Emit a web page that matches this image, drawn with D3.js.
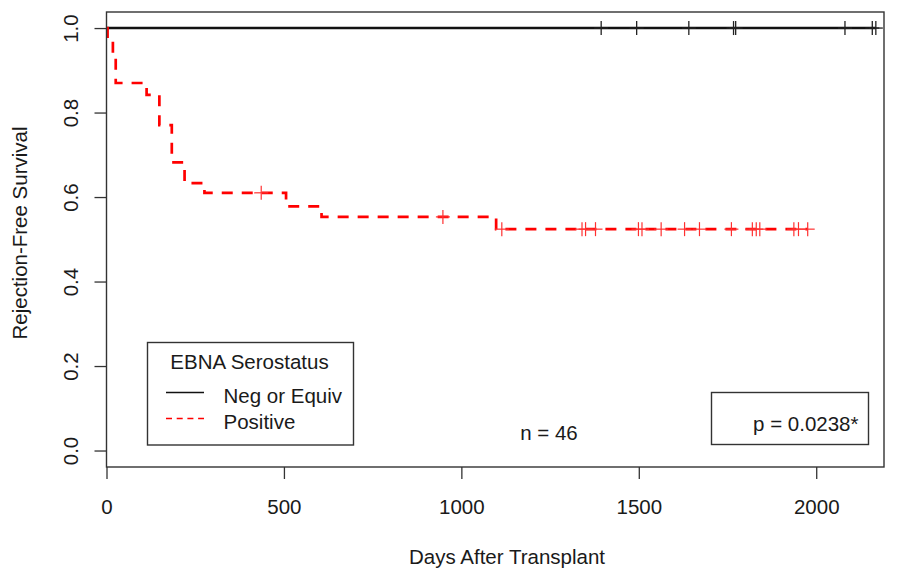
<!DOCTYPE html>
<html>
<head>
<meta charset="utf-8">
<script src="https://cdn.jsdelivr.net/npm/d3@7"></script>
<style>
  html, body { margin: 0; padding: 0; background: #fff; }
  svg { display: block; }
  text { font-family: "Liberation Sans", Arial, sans-serif; fill: #1a1a1a; }
</style>
</head>
<body>
<svg id="chart" width="897" height="570"></svg>
<script>
// ---- data ----
// Positive group: Kaplan-Meier step times (days) and survival after each step
const posTimes = [0, 3, 18, 26, 113, 149, 184, 220, 276, 506, 606, 1098];
const posSurv  = [1.0, 0.968, 0.935, 0.870, 0.842, 0.770, 0.682, 0.633, 0.610, 0.578, 0.553, 0.524];
const posCensor = [436, 948, 1114, 1340, 1350, 1378, 1499, 1509, 1563, 1629, 1671, 1761, 1820, 1831, 1841, 1937, 1950, 1976];
const posEnd = 1976;

// Neg or Equiv group: no events
const negTimes = [0];
const negSurv  = [1.0];
const negCensor = [1394, 1494, 1641, 1767, 1773, 2081, 2158, 2168];
const negEnd = 2168;

const xTicks = [0, 500, 1000, 1500, 2000];
const yTicks = [0.0, 0.2, 0.4, 0.6, 0.8, 1.0];
const legendTitle = "EBNA Serostatus";
const legendLabels = ["Neg or Equiv", "Positive"];
const xTitle = "Days After Transplant";
const yTitle = "Rejection-Free Survival";
const nText = "n = 46";
const pText = "p = 0.0238*";

// ---- layout ----
const svg = d3.select("#chart");
svg.append("rect").attr("width", 897).attr("height", 570).attr("fill", "#fff");

const L = 106.5, R = 884, T = 12, B = 467;
const x = d3.scaleLinear().domain([0, 2191]).range([L, R]);
const y = d3.scaleLinear().domain([-0.039, 1.038]).range([B, T]);

const FS = "20.5px";
const axisColor = "#333";

// Axes
const xAxis = svg.append("g")
  .attr("transform", `translate(0,${B})`)
  .call(d3.axisBottom(x).tickValues(xTicks).tickFormat(d3.format("d")).tickSize(12).tickPadding(0));
xAxis.select(".domain").remove();
xAxis.selectAll(".tick line").attr("stroke", axisColor).attr("stroke-width", 1.3);
xAxis.selectAll(".tick text")
  .attr("y", 47).attr("dy", 0)
  .style("font-size", FS).style("font-family", "'Liberation Sans', Arial, sans-serif")
  .attr("fill", "#1a1a1a");

const yAxis = svg.append("g")
  .attr("transform", `translate(${L},0)`)
  .call(d3.axisLeft(y).tickValues(yTicks).tickFormat(d3.format(".1f")).tickSize(12).tickPadding(0));
yAxis.select(".domain").remove();
yAxis.selectAll(".tick line").attr("stroke", axisColor).attr("stroke-width", 1.3);
yAxis.selectAll(".tick text")
  .attr("transform", "rotate(-90)")
  .attr("x", 0).attr("y", -28.5).attr("dy", 0)
  .attr("text-anchor", "middle")
  .style("font-size", FS).style("font-family", "'Liberation Sans', Arial, sans-serif")
  .attr("fill", "#1a1a1a");

// Axis titles
svg.append("text").attr("x", 507).attr("y", 564)
  .attr("text-anchor", "middle").style("font-size", FS).text(xTitle);
svg.append("text").attr("transform", "translate(26.5,233) rotate(-90)")
  .attr("text-anchor", "middle").style("font-size", FS).text(yTitle);

// Curves
function stepPoints(times, surv, end) {
  const pts = times.map((t, i) => [t, surv[i]]);
  pts.push([end, surv[surv.length - 1]]);
  return pts;
}
function survAt(times, surv, t) {
  let s = surv[0];
  for (let i = 0; i < times.length; i++) if (times[i] <= t) s = surv[i];
  return s;
}
const line = d3.line().x(d => x(d[0])).y(d => y(d[1])).curve(d3.curveStepAfter);

svg.append("path")
  .attr("d", line(stepPoints(negTimes, negSurv, negEnd)))
  .attr("fill", "none").attr("stroke", "#111").attr("stroke-width", 2.4);

svg.append("path")
  .attr("d", line(stepPoints(posTimes, posSurv, posEnd)))
  .attr("fill", "none").attr("stroke", "#ff0000").attr("stroke-width", 2.7)
  .attr("stroke-dasharray", "11,9");

// Censor marks
const half = 7;
function censorMarks(times, surv, cens, color, w) {
  const g = svg.append("g").attr("stroke", color).attr("stroke-width", w);
  cens.forEach(t => {
    const cx = x(t), cy = y(survAt(times, surv, t));
    g.append("line").attr("x1", cx - half).attr("x2", cx + half).attr("y1", cy).attr("y2", cy);
    g.append("line").attr("x1", cx).attr("x2", cx).attr("y1", cy - half).attr("y2", cy + half);
  });
}
censorMarks(negTimes, negSurv, negCensor, "#222", 1.3);
censorMarks(posTimes, posSurv, posCensor, "#ff3030", 1.2);

// Plot box
svg.append("rect").attr("x", L).attr("y", T).attr("width", R - L).attr("height", B - T)
  .attr("fill", "none").attr("stroke", axisColor).attr("stroke-width", 1.4);

// Legend
const lg = svg.append("g");
lg.append("rect").attr("x", 147.5).attr("y", 342.5).attr("width", 206).attr("height", 102.5)
  .attr("fill", "#fff").attr("stroke", axisColor).attr("stroke-width", 1.4);
lg.append("text").attr("x", 249.5).attr("y", 368.5).attr("text-anchor", "middle")
  .style("font-size", FS).text(legendTitle);
lg.append("line").attr("x1", 166).attr("x2", 204).attr("y1", 392.5).attr("y2", 392.5)
  .attr("stroke", "#111").attr("stroke-width", 1.3);
lg.append("line").attr("x1", 166).attr("x2", 204).attr("y1", 418.5).attr("y2", 418.5)
  .attr("stroke", "#ff0000").attr("stroke-width", 1.3).attr("stroke-dasharray", "6,4.7");
lg.append("text").attr("x", 223.5).attr("y", 402.5).style("font-size", FS).text(legendLabels[0]);
lg.append("text").attr("x", 223.5).attr("y", 428.5).style("font-size", FS).text(legendLabels[1]);

// n label
svg.append("text").attr("x", 549).attr("y", 439.5).attr("text-anchor", "middle")
  .style("font-size", FS).text(nText);

// p box
svg.append("rect").attr("x", 711.5).attr("y", 392.5).attr("width", 157).attr("height", 52)
  .attr("fill", "#fff").attr("stroke", axisColor).attr("stroke-width", 1.4);
svg.append("text").attr("x", 858.5).attr("y", 430.5).attr("text-anchor", "end")
  .style("font-size", FS).text(pText);
</script>
</body>
</html>
